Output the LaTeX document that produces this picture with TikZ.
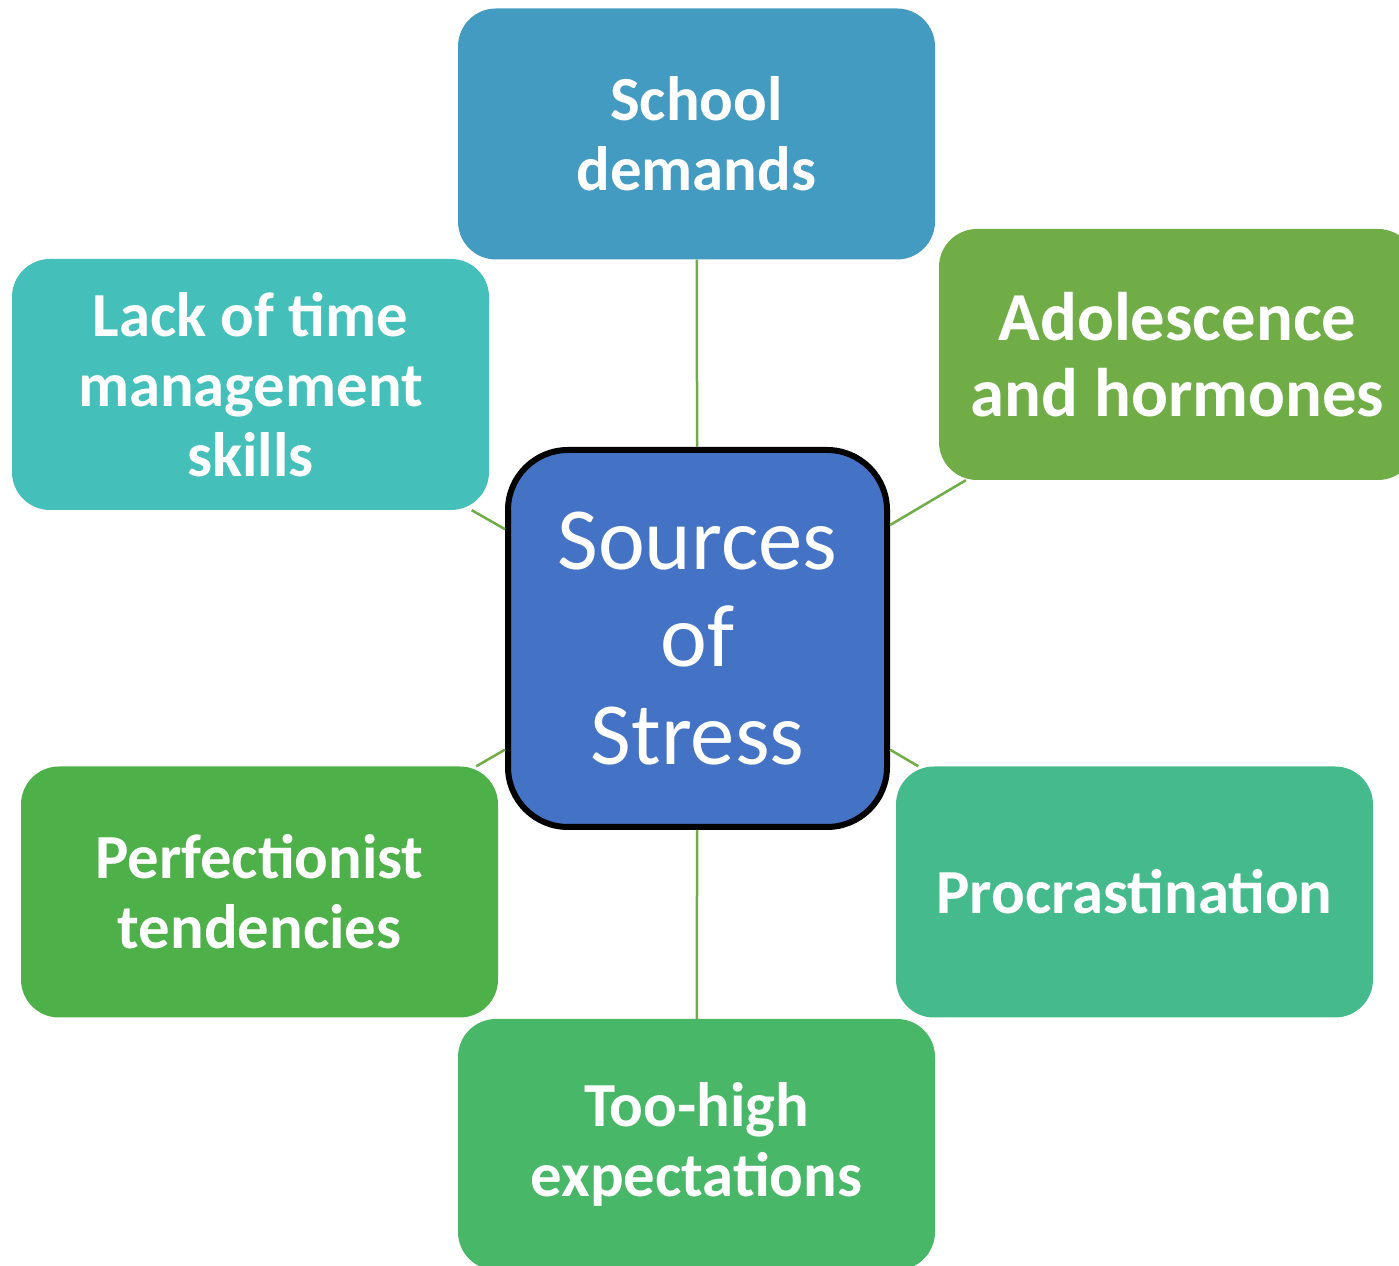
\documentclass[tikz,border=0pt]{standalone}
\usepackage{fontspec}
\setmainfont{Carlito}
\usepackage{tikz}
\usetikzlibrary{arrows.meta}

\definecolor{cCenter}{HTML}{4472C4}
\definecolor{cSchool}{HTML}{449BC2}
\definecolor{cLack}{HTML}{44BFB9}
\definecolor{cAdol}{HTML}{70AD47}
\definecolor{cPerf}{HTML}{4DB049}
\definecolor{cProc}{HTML}{45BB8D}
\definecolor{cHigh}{HTML}{48B767}
\definecolor{cLink}{HTML}{70AD47}

\begin{document}
\begin{tikzpicture}[line join=bevel,
  leaf/.style={rounded corners=38bp,minimum width=477bp,minimum height=251bp,inner sep=0pt,
    text=white,align=center,font=\fontsize{63}{70}\selectfont\bfseries},
  hub/.style={draw=black,line width=6bp,fill=cCenter,rounded corners=60bp,minimum width=379bp,
    minimum height=377bp,inner sep=0pt,text=white,align=center,font=\fontsize{89}{98}\selectfont},
  link/.style={cLink,line width=2.5bp}]
\useasboundingbox (0bp,0bp) rectangle (1399bp,1266bp);
%%
\node (node_school) at (696.5bp,1132bp) [leaf,fill=cSchool] {School\\demands};
  \node (node_lack) at (250.5bp,881.5bp) [leaf,fill=cLack] {Lack of time\\management\\skills};
  \node (node_adol) at (1177.5bp,911.5bp) [leaf,fill=cAdol,font=\fontsize{69}{76}\selectfont\bfseries] {Adolescence\\and hormones};
  \node (node_perf) at (259.5bp,374bp) [leaf,fill=cPerf] {Perfectionist\\tendencies};
  \node (node_proc) at (1134.5bp,374bp) [leaf,fill=cProc] {Procrastination};
  \node (node_high) at (696.5bp,121.5bp) [leaf,fill=cHigh] {Too-high\\expectations};
  \node (node_center) at (697.5bp,627.5bp) [hub] {Sources\\of\\Stress};
  \draw [link] (node_center) -- (node_school);
  \draw [link] (node_center) -- (node_adol);
  \draw [link] (node_center) -- (node_proc);
  \draw [link] (node_center) -- (node_high);
  \draw [link] (node_center) -- (node_perf);
  \draw [link] (node_center) -- (node_lack);
%
\end{tikzpicture}
\end{document}
